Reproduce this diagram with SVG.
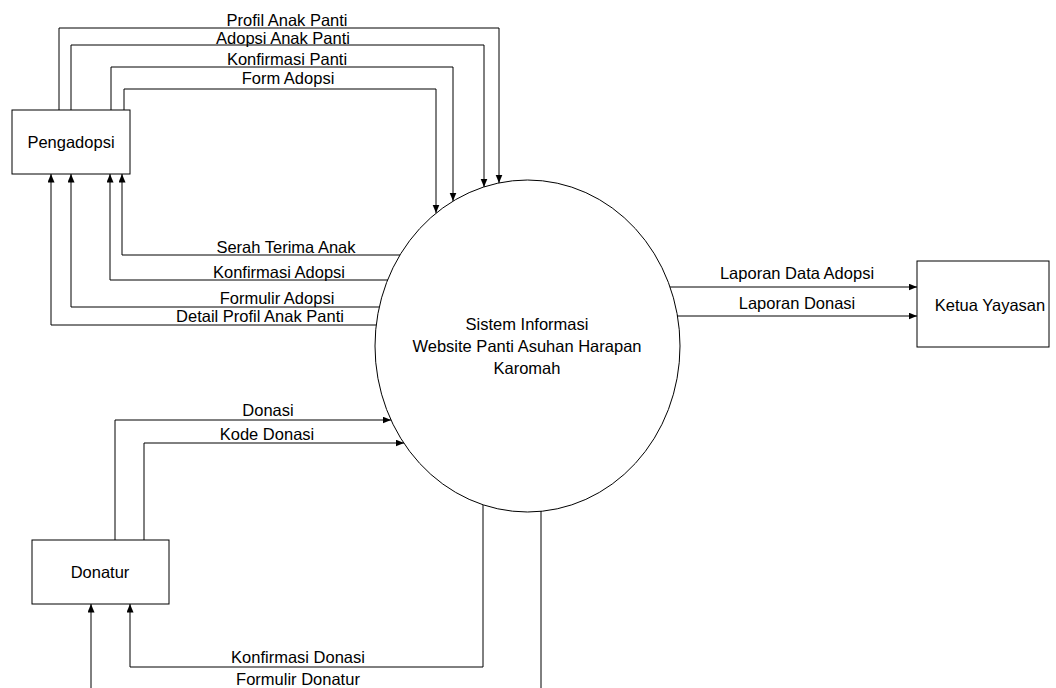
<svg xmlns="http://www.w3.org/2000/svg" width="1056" height="688" viewBox="0 0 1056 688">
<defs>
<style>
.box{fill:#fff;stroke:#000;stroke-width:1}
.proc{fill:#fff;stroke:#000;stroke-width:1}
.t{font-family:"Liberation Sans",Arial,sans-serif;font-size:16.5px;fill:#000;text-anchor:middle}
.c{fill:none;stroke:#000;stroke-width:1}
.a{marker-end:url(#arr)}
</style>
<marker id="arr" markerWidth="9" markerHeight="8" refX="8.5" refY="3.5" orient="auto" markerUnits="userSpaceOnUse">
<path d="M0,0 L8.5,3.5 L0,7 z" fill="#000"/>
</marker>
</defs>
<rect width="1056" height="688" fill="#fff"/>

<g id="process">
<ellipse class="proc" cx="527.5" cy="346" rx="152.5" ry="166"/>
<text class="t" x="527" y="330">Sistem Informasi</text>
<text class="t" x="527" y="352">Website Panti Asuhan Harapan</text>
<text class="t" x="527" y="374">Karomah</text>
</g>

<g id="pengadopsi">
<rect class="box" x="12" y="110" width="118" height="64"/>
<text class="t" x="71" y="148">Pengadopsi</text>
</g>

<g id="ketua-yayasan">
<rect class="box" x="917" y="261" width="132" height="86"/>
<text class="t" x="990" y="311">Ketua Yayasan</text>
</g>

<g id="donatur">
<rect class="box" x="32" y="540" width="137" height="64"/>
<text class="t" x="100" y="578">Donatur</text>
</g>

<g id="connectors">
<path class="c a" d="M59,110 V28 H499 V183"/>
<path class="c a" d="M71,110 V45 H484 V187"/>
<path class="c a" d="M111,110 V67 H453 V201"/>
<path class="c a" d="M124,110 V89 H436 V213"/>
<path class="c a" d="M400,255 H122 V174"/>
<path class="c a" d="M388,280 H110 V174"/>
<path class="c a" d="M379,307 H71 V174"/>
<path class="c a" d="M376,325 H51 V174"/>
<path class="c a" d="M670,287 H917"/>
<path class="c a" d="M677,316 H917"/>
<path class="c a" d="M115,540 V420 H391"/>
<path class="c a" d="M144,540 V443 H404"/>
<path class="c a" d="M483,505 V667 H130 V604"/>
<path class="c a" d="M541,511 V698 H91 V604"/>

<text class="t" x="287" y="26">Profil Anak Panti</text>
<text class="t" x="283" y="44">Adopsi Anak Panti</text>
<text class="t" x="287" y="65">Konfirmasi Panti</text>
<text class="t" x="288" y="84">Form Adopsi</text>
<text class="t" x="286" y="253">Serah Terima Anak</text>
<text class="t" x="279" y="278">Konfirmasi Adopsi</text>
<text class="t" x="277" y="304">Formulir Adopsi</text>
<text class="t" x="260" y="322">Detail Profil Anak Panti</text>
<text class="t" x="797" y="279">Laporan Data Adopsi</text>
<text class="t" x="797" y="309">Laporan Donasi</text>
<text class="t" x="268" y="416">Donasi</text>
<text class="t" x="267" y="440">Kode Donasi</text>
<text class="t" x="298" y="663">Konfirmasi Donasi</text>
<text class="t" x="298" y="685">Formulir Donatur</text>
</g>
</svg>
